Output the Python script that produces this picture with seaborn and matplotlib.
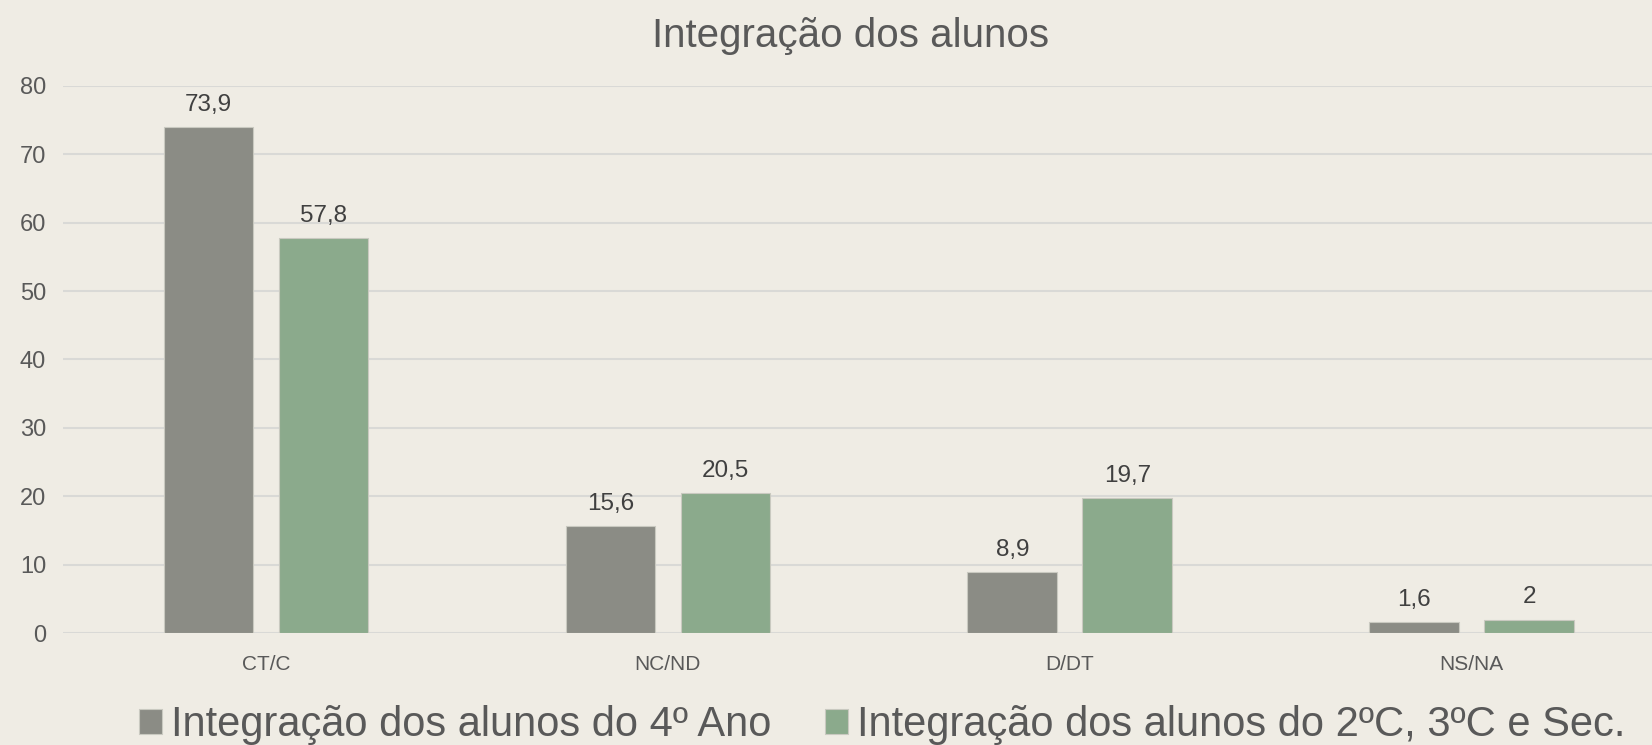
import pandas as pd
import seaborn as sns
import matplotlib.pyplot as plt

categories = ["CT/C", "NC/ND", "D/DT", "NS/NA"]
series_names = ["Integração dos alunos do 4º Ano", "Integração dos alunos do 2ºC, 3ºC e Sec."]
values_4ano = [73.9, 15.6, 8.9, 1.6]
values_outros = [57.8, 20.5, 19.7, 2]
y_ticks = [0, 10, 20, 30, 40, 50, 60, 70, 80]

df = pd.DataFrame({
    "cat": categories * 2,
    "serie": [series_names[0]] * 4 + [series_names[1]] * 4,
    "valor": values_4ano + values_outros,
})

bg = "#EFECE4"
sns.set_theme(style="white")
plt.rcParams["font.family"] = ["Liberation Sans", "DejaVu Sans"]

fig = plt.figure(figsize=(16.52, 7.45), dpi=100, facecolor=bg)
ax = fig.add_axes([0.038, 0.150, 0.962, 0.735], facecolor=bg)

sns.barplot(data=df, x="cat", y="valor", hue="serie", order=categories,
            hue_order=series_names, palette=["#8B8C85", "#8BAA8C"],
            width=0.572, gap=0.22, saturation=1, ax=ax,
            edgecolor="#C9C9C0", linewidth=0.8)

# rótulos com vírgula decimal
for cont in ax.containers:
    labels = [("%g" % v.get_height()).replace(".", ",") for v in cont]
    ax.bar_label(cont, labels=labels, padding=8, fontsize=17.5, color="#404040")

ax.set_ylim(0, 80)
ax.set_yticks(y_ticks)
ax.set_xlim(-0.506, 3.449)
ax.yaxis.grid(True, color="#D9D9D6", linewidth=1.5)
ax.set_axisbelow(True)
for s in ax.spines.values():
    s.set_visible(False)
ax.tick_params(axis="y", labelsize=17, labelcolor="#595959", length=0, pad=12)
ax.tick_params(axis="x", labelsize=15, labelcolor="#595959", length=0, pad=16)
ax.set_xlabel("")
ax.set_ylabel("")

ax.set_title("Integração dos alunos", fontsize=29, color="#595959", pad=28, x=0.496)

handles, labs = ax.get_legend_handles_labels()
ax.get_legend().remove()
fig.legend(handles, labs, loc="center", bbox_to_anchor=(0.534, 0.027), ncol=2,
           frameon=False, fontsize=30, labelcolor="#595959", handlelength=0.55,
           handleheight=0.55, handletextpad=0.2, columnspacing=1.3)

fig.savefig("out.png", dpi=100, facecolor=bg)
